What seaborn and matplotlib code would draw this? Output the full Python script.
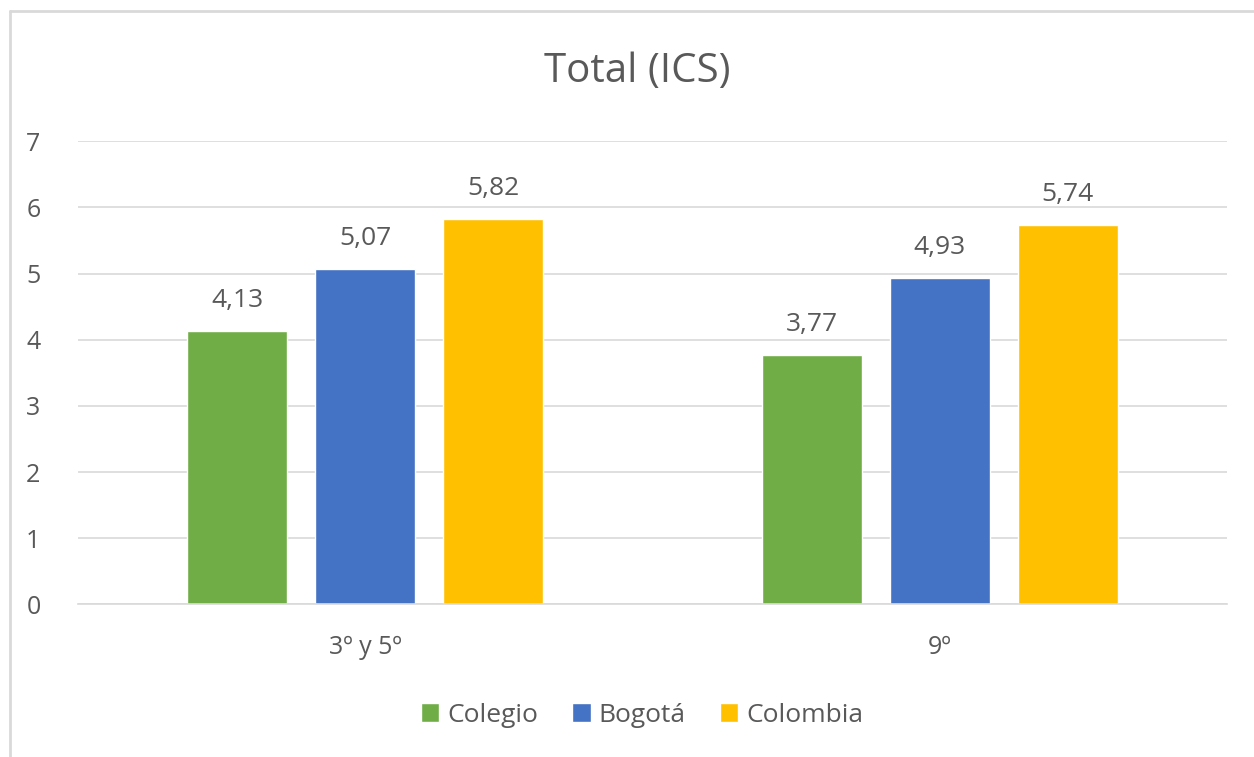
import matplotlib
matplotlib.use("Agg")
import matplotlib.pyplot as plt
import seaborn as sns
import pandas as pd
from matplotlib.lines import Line2D

categories = ["3º y 5º", "9º"]
series = ["Colegio", "Bogotá", "Colombia"]
colegio = [4.13, 3.77]
bogota = [5.07, 4.93]
colombia = [5.82, 5.74]
colors = ["#70AD47", "#4472C4", "#FFC000"]

rows = []
for name, vals in zip(series, [colegio, bogota, colombia]):
    for c, v in zip(categories, vals):
        rows.append({"cat": c, "serie": name, "val": v})
df = pd.DataFrame(rows)

sns.set_theme(style="white")
plt.rcParams["font.family"] = ["Open Sans", "DejaVu Sans"]
txt = "#595959"

fig = plt.figure(figsize=(12.54, 7.57), dpi=100)
ax = fig.add_axes([78/1254, 1-604.3/757, (1227-78)/1254, (604.3-141.3)/757])

sns.barplot(data=df, x="cat", y="val", hue="serie", palette=colors,
            width=0.668, gap=0.216, ax=ax, legend=True, saturation=1)

ax.set_ylim(0, 7)
ax.set_yticks(range(0, 8))
ax.yaxis.grid(True, color="#D9D9D9", linewidth=1.2)
ax.set_axisbelow(True)
for s in ["top", "right", "left"]:
    ax.spines[s].set_visible(False)
ax.spines["bottom"].set_color("#D9D9D9")
ax.spines["bottom"].set_linewidth(1.2)
ax.tick_params(axis="both", length=0, labelsize=18, labelcolor=txt)
ax.tick_params(axis="y", pad=27)
ax.tick_params(axis="x", pad=22)
ax.set_xlabel("")
ax.set_ylabel("")

for cont in ax.containers:
    ax.bar_label(cont, labels=[f"{v:.2f}".replace(".", ",") for v in cont.datavalues],
                 padding=13, fontsize=19, color=txt)

handles, labels = ax.get_legend_handles_labels()
ax.get_legend().remove()
fig.legend(handles, labels, loc="center", bbox_to_anchor=(0.512, 1-715/757), ncol=3,
           frameon=False, fontsize=19, labelcolor=txt, handlelength=0.7,
           handleheight=0.7, handletextpad=0.3, columnspacing=1.3)

fig.text(0.508, 1-72/757, "Total (ICS)", ha="center", va="center",
         fontsize=29, color=txt)

fig.add_artist(Line2D([10/1254, 1], [1-11/757, 1-11/757], color="#D9D9D9", linewidth=2))
fig.add_artist(Line2D([10/1254, 10/1254], [0, 1-11/757], color="#D9D9D9", linewidth=2))

fig.savefig("out.png", dpi=100)
